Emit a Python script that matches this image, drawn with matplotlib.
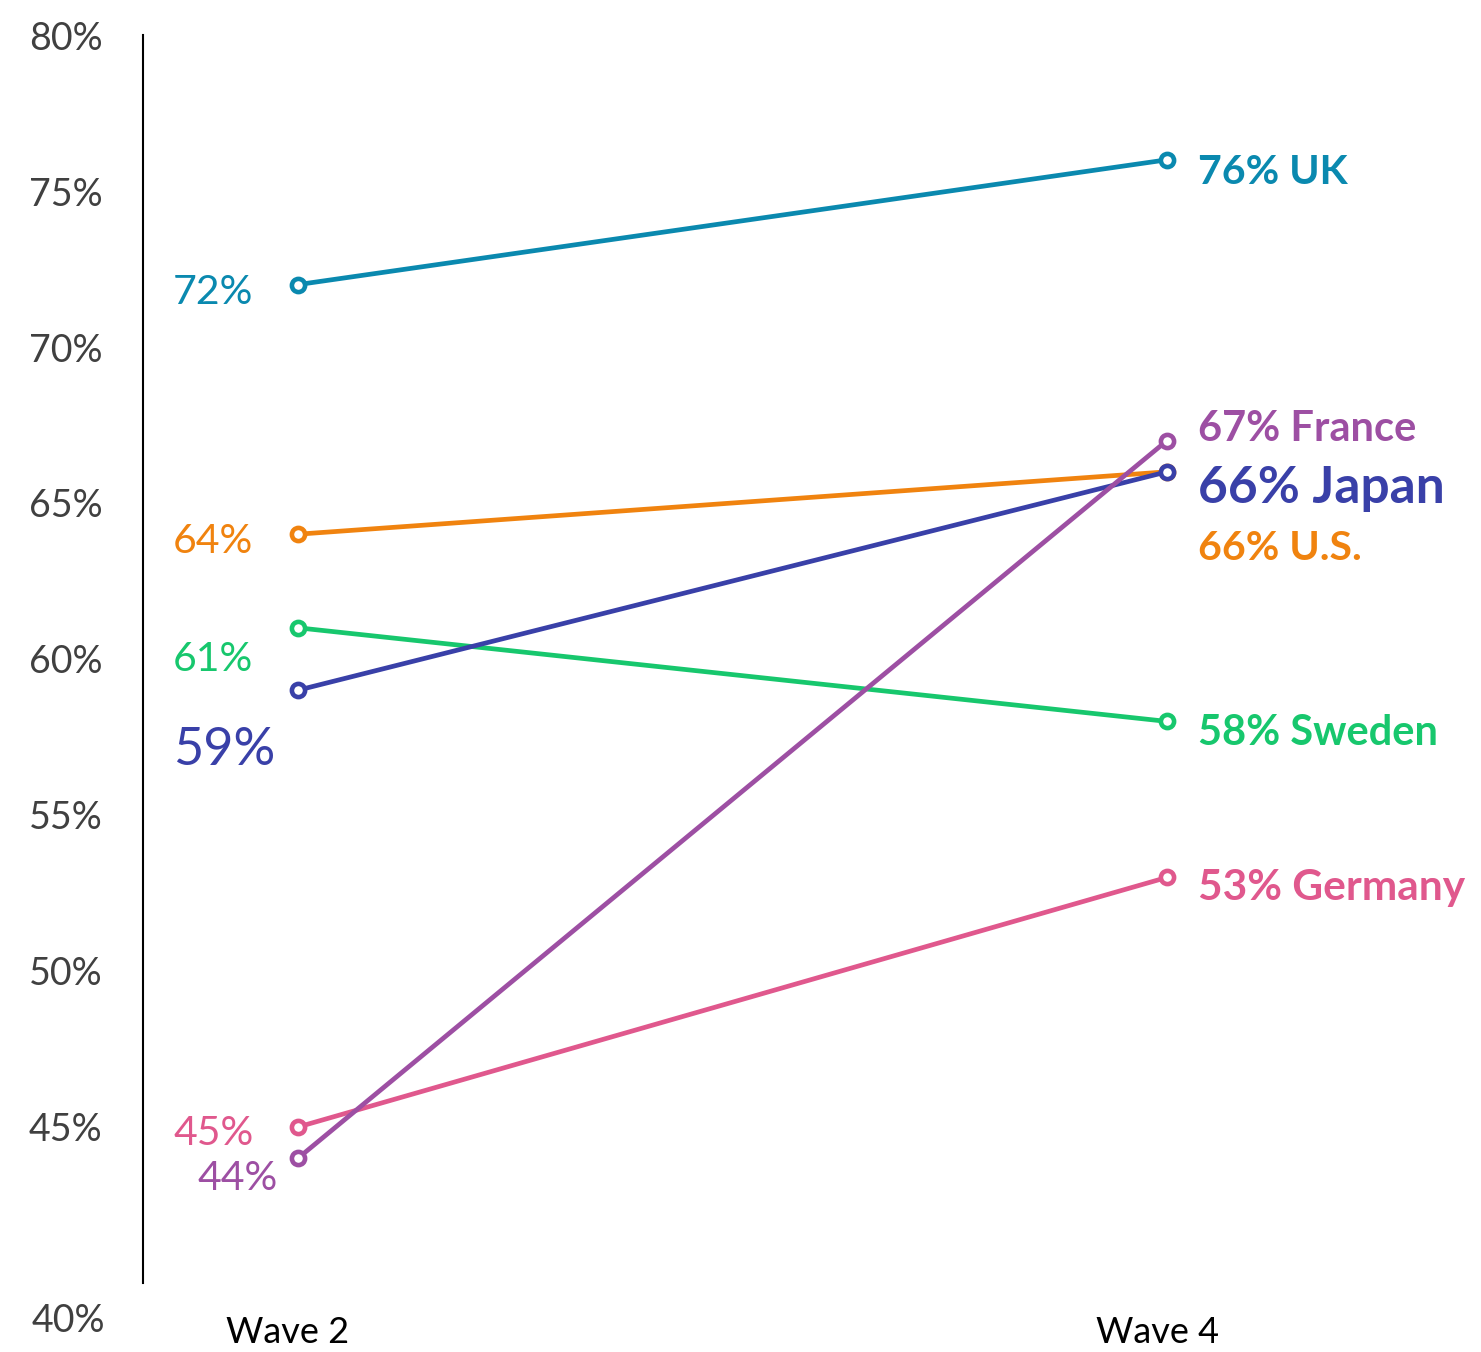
import matplotlib.pyplot as plt
from matplotlib.transforms import ScaledTranslation

plt.rcParams['font.family'] = ['Lato', 'DejaVu Sans']

waves = ['Wave 2', 'Wave 4']
countries = ['UK', 'U.S.', 'Sweden', 'Germany', 'Japan', 'France']
wave2 = [72, 64, 61, 45, 59, 44]
wave4 = [76, 66, 58, 53, 66, 67]
colors = ['#0A89AF', '#F0830F', '#17C76D', '#E0588D', '#3940A8', '#9D4FA3']

# label placement (pixels from the marker) and font size per country
left_off = {'UK': (-125, -8), 'U.S.': (-125, -7), 'Sweden': (-125, -32),
            'Germany': (-125, -7), 'Japan': (-125, -60), 'France': (-100, -20)}
right_off = {'UK': (31, -13), 'U.S.': (31, -77), 'Sweden': (31, -12),
             'Germany': (31, -11), 'Japan': (31, -17), 'France': (31, 12)}
left_size = {'Japan': 37.5}
right_size = {'Japan': 37, 'Germany': 30.5, 'Sweden': 30, 'France': 30}

fig = plt.figure(figsize=(14.81, 13.52), dpi=100)
W, H = 1481, 1352
ax = fig.add_axes([143 / W, 1 - 1283 / H, (W - 143) / W, (1283 - 35) / H])

x = [0, 1]
for c, a, b, col in zip(countries, wave2, wave4, colors):
    ax.plot(x, [a, b], color=col, lw=3.4, marker='o', ms=9.5, mew=3.3,
            mfc='white', mec=col, zorder=3, clip_on=False)
    ax.annotate(f'{a}%', (0, a), xytext=left_off[c], textcoords='offset pixels',
                ha='left', va='center', color=col,
                fontsize=left_size.get(c, 29.5))
    ax.annotate(f'{b}% {c}', (1, b), xytext=right_off[c], textcoords='offset pixels',
                ha='left', va='center', color=col, fontweight='bold',
                fontsize=right_size.get(c, 29.5))

ax.set_xlim(-155 / 869, 1 + 314 / 869)
ax.set_ylim(40, 80)

ax.set_yticks(range(45, 85, 5))
ax.set_yticklabels([f'{v}%' for v in range(45, 85, 5)])
ax.tick_params(axis='y', length=0, pad=29, labelsize=27, labelcolor='#404040')
# the 40% label sits below the axis end
ax.annotate('40%', (0, 40), xycoords=ax.get_yaxis_transform(), xytext=(-38, -38),
            textcoords='offset pixels', ha='right', va='center', fontsize=27,
            color='#404040')

ax.set_xticks(x)
ax.set_xticklabels(waves)
ax.tick_params(axis='x', length=0, pad=24, labelsize=26, labelcolor='black')
for lab in ax.get_xticklabels():
    lab.set_transform(lab.get_transform() + ScaledTranslation(-0.1, 0, fig.dpi_scale_trans))

for s in ['top', 'right', 'bottom']:
    ax.spines[s].set_visible(False)
ax.spines['left'].set_linewidth(1.5)
ax.spines['left'].set_color('black')

fig.savefig('out.png', dpi=100)
